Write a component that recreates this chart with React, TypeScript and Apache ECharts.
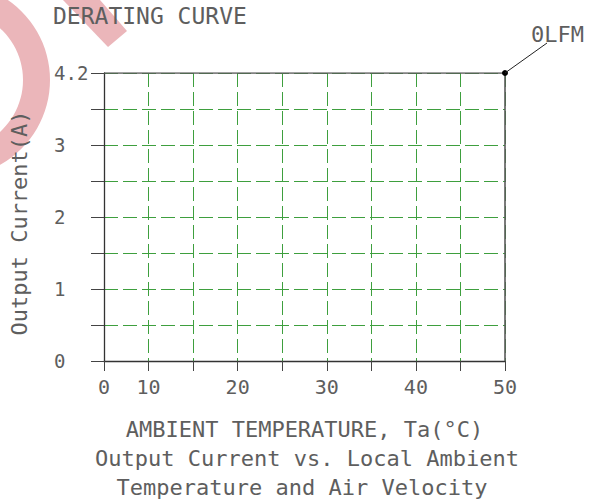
import React, { useEffect, useRef } from "react";
import * as echarts from "echarts";

// ---- data ----
const xCategories = ["0", "10", "15", "20", "25", "30", "35", "40", "45", "50"];
const xLabelShown = ["0", "10", "20", "30", "40", "50"];
const yCategories = ["0", "0.5", "1", "1.5", "2", "2.5", "3", "3.5", "4.2"];
const yLabelShown = ["0", "1", "2", "3", "4.2"];
const curveTemp = ["0", "50", "50"];
const curveCurrent = ["4.2", "4.2", "0"];
const curveName = "0LFM";
const titleText = "DERATING CURVE";
const xAxisName = "AMBIENT TEMPERATURE, Ta(°C)";
const yAxisName = "Output Current(A)";
const captionLines = ["Output Current vs. Local Ambient", "Temperature and Air Velocity"];

const FONT = "'DejaVu Sans Mono', monospace";
const TEXT = "#5e5e5e";
const GRID_GREEN = "#3e9f3e";
const PINK = "#ebb6ba";

export default function App() {
  const ref = useRef<HTMLDivElement>(null);
  useEffect(() => {
    if (!ref.current) return;
    const chart = echarts.init(ref.current, undefined, { renderer: "svg" });
    const curveData = curveTemp.map((t, i) => ({
      value: [t, curveCurrent[i]],
      symbol: i === 1 ? "circle" : "none",
      symbolSize: 6,
    }));
    chart.setOption({
      animation: false,
      backgroundColor: "#ffffff",
      title: {
        text: titleText,
        left: 48,
        top: -1,
        textStyle: { fontFamily: FONT, fontSize: 23, fontWeight: "normal", color: TEXT },
      },
      grid: {
        left: 104,
        right: 92,
        top: 73,
        bottom: 140,
        containLabel: false,
        outerBoundsMode: "none",
      },
      xAxis: {
        type: "category",
        data: xCategories,
        boundaryGap: false,
        name: xAxisName,
        nameLocation: "middle",
        nameGap: 57,
        nameTextStyle: { fontFamily: FONT, fontSize: 22, color: TEXT },
        axisLine: { lineStyle: { color: "#333", width: 1.3 } },
        axisTick: { show: true, length: 10, interval: 0, lineStyle: { color: "#444" } },
        axisLabel: {
          interval: 0,
          margin: 16,
          fontFamily: FONT,
          fontSize: 20,
          color: TEXT,
          formatter: (v: string) => (xLabelShown.includes(v) ? v : ""),
        },
        splitLine: {
          show: true,
          interval: 0,
          lineStyle: { color: GRID_GREEN, type: [14, 5], width: 1 },
        },
      },
      yAxis: {
        type: "category",
        data: yCategories,
        boundaryGap: false,
        name: yAxisName,
        nameLocation: "middle",
        nameRotate: 90,
        nameGap: 74,
        nameTextStyle: { fontFamily: FONT, fontSize: 22, color: TEXT, padding: [0, 12, 0, 0] },
        axisLine: { lineStyle: { color: "#333", width: 1.3 } },
        axisTick: { show: true, length: 13, interval: 0, lineStyle: { color: "#444" } },
        axisLabel: {
          interval: 0,
          margin: 50,
          align: "left",
          fontFamily: FONT,
          fontSize: 19,
          color: TEXT,
          formatter: (v: string) => (yLabelShown.includes(v) ? v : ""),
        },
        splitLine: {
          show: true,
          interval: 0,
          lineStyle: { color: GRID_GREEN, type: [14, 5], width: 1 },
        },
      },
      series: [
        {
          name: curveName,
          type: "line",
          data: curveData,
          z: 5,
          lineStyle: { color: "#5a5a5a", width: 1.6 },
          itemStyle: { color: "#000" },
        },
      ],
    });

    const p = chart.convertToPixel({ seriesIndex: 0 }, [curveTemp[1], curveCurrent[1]]) as number[];
    const lx = p[0] + 42;
    const ly = p[1] - 30;
    chart.setOption({
      graphic: [
        {
          type: "ring",
          shape: { cx: -47, cy: 80, r: 97, r0: 70 },
          style: { fill: PINK },
          z: -10,
          silent: true,
        },
        {
          type: "polygon",
          shape: { points: [[63, 0], [100, 0], [127, 31], [108, 47]] },
          style: { fill: PINK },
          z: -10,
          silent: true,
        },
        {
          type: "line",
          shape: { x1: p[0], y1: p[1], x2: lx, y2: ly },
          style: { stroke: "#222", lineWidth: 1 },
          z: 10,
        },
        {
          type: "text",
          x: 531,
          y: 34,
          style: {
            text: curveName,
            font: `22px ${FONT}`,
            fill: TEXT,
            textAlign: "left",
            textVerticalAlign: "middle",
          },
          z: 10,
        },
        {
          type: "text",
          x: 307,
          y: 458,
          style: {
            text: captionLines[0],
            font: `22px ${FONT}`,
            fill: TEXT,
            textAlign: "center",
            textVerticalAlign: "middle",
          },
        },
        {
          type: "text",
          x: 302,
          y: 487,
          style: {
            text: captionLines[1],
            font: `22px ${FONT}`,
            fill: TEXT,
            textAlign: "center",
            textVerticalAlign: "middle",
          },
        },
      ],
    });
    return () => chart.dispose();
  }, []);
  return (
    <div
      ref={ref}
      style={{ position: "fixed", left: 0, top: 0, width: 597, height: 501 }}
    />
  );
}
